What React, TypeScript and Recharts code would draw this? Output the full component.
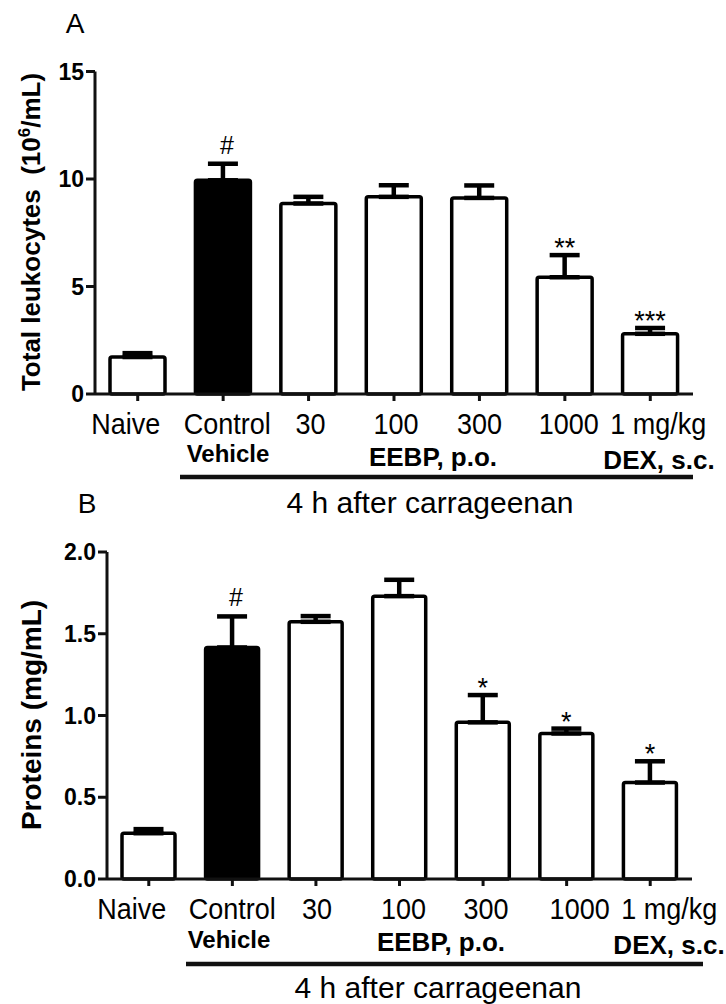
import React from "react";
import { BarChart, Bar, XAxis, YAxis, ErrorBar, Cell } from "recharts";

const FONT = "'Liberation Sans', Arial, sans-serif";

const categories = ["Naive", "Control", "30", "100", "300", "1000", "1 mg/kg"];

// panel A: total leukocytes (10^6/mL)
const leukMean = [1.72, 9.94, 8.86, 9.17, 9.12, 5.43, 2.8];
const leukSem = [0.18, 0.77, 0.31, 0.54, 0.58, 1.03, 0.27];
const leukMarks = ["", "#", "", "", "", "**", "***"];
const leukTicks = [0, 5, 10, 15];

// panel B: proteins (mg/mL)
const protMean = [0.28, 1.416, 1.573, 1.73, 0.958, 0.89, 0.59];
const protSem = [0.025, 0.19, 0.035, 0.1, 0.167, 0.03, 0.13];
const protMarks = ["", "#", "", "", "*", "*", "*"];
const protTicks = [0, 0.5, 1, 1.5, 2];

const groupLabels = ["Vehicle", "EEBP, p.o.", "DEX, s.c."];
const caption = "4 h after carrageenan";

const buildRows = (mean: number[], sem: number[], marks: string[]) =>
  categories.map((c, i) => ({
    cat: c,
    mean: mean[i],
    sem: sem[i],
    err: [0, sem[i]],
    mark: marks[i],
  }));

const leukRows = buildRows(leukMean, leukSem, leukMarks);
const protRows = buildRows(protMean, protSem, protMarks);

// label nudges (layout only)
const A_DX = [-12, 4, 2, 2, 0, 4, 8];
const B_DX = [-17, 0, 1, 4, 3, 13, 19];

function XTick(props: any) {
  const { x, y, payload, dxs } = props;
  const idx = payload.index ?? categories.indexOf(payload.value);
  return (
    <g transform={`translate(${x + dxs[idx]},${y + 33}) scale(1,1.1)`}>
      <text textAnchor="middle" fontSize={27} fontFamily={FONT} fill="#000">
        {payload.value}
      </text>
    </g>
  );
}

function BarShape(props: any) {
  const { x, y, width, height, payload, fill } = props;
  const pxPerUnit = payload.mean ? height / payload.mean : 0;
  const capY = y - payload.sem * pxPerUnit;
  const isHash = payload.mark === "#";
  return (
    <g>
      <rect
        x={x}
        y={y}
        width={width}
        height={height}
        rx={2}
        fill={fill}
        stroke="#000"
        strokeWidth={3.5}
      />
      {payload.mark && (
        <text
          x={x + width / 2 + (isHash ? 4 : 0)}
          y={isHash ? capY - 10 : capY + 2}
          textAnchor="middle"
          fontSize={isHash ? 25 : 27}
          fontFamily={FONT}
          fill="#000"
        >
          {payload.mark}
        </text>
      )}
    </g>
  );
}

type PanelProps = {
  rows: any[];
  ticks: number[];
  top: number;
  yWidth: number;
  right: number;
  marginTop: number;
  dxs: number[];
  barSize: number;
  fmt: (v: number) => string;
};

function Panel({ rows, ticks, top, yWidth, right, marginTop, dxs, barSize, fmt }: PanelProps) {
  const H = 470;
  return (
    <div style={{ position: "absolute", left: 0, top }}>
      <BarChart
        width={726}
        height={H}
        data={rows}
        margin={{ top: marginTop, right, left: 0, bottom: H - 394 - 30 }}
      >
        <XAxis
          dataKey="cat"
          height={30}
          interval={0}
          axisLine={{ stroke: "#111", strokeWidth: 3 }}
          tickLine={{ stroke: "#111", strokeWidth: 3 }}
          tickSize={7}
          tickMargin={0}
          tick={(p: any) => <XTick {...p} dxs={dxs} />}
        />
        <YAxis
          width={yWidth}
          domain={[ticks[0], ticks[ticks.length - 1]]}
          ticks={ticks}
          interval={0}
          tickFormatter={fmt}
          axisLine={{ stroke: "#111", strokeWidth: 3 }}
          tickLine={{ stroke: "#111", strokeWidth: 3 }}
          tickSize={9}
          tickMargin={2}
          tick={{ fontSize: 23, fontWeight: 700, fill: "#000", fontFamily: FONT }}
        />
        <Bar dataKey="mean" barSize={barSize} isAnimationActive={false} shape={<BarShape />}>
          {rows.map((r, i) => (
            <Cell key={r.cat} fill={i === 1 ? "#000" : "#fff"} />
          ))}
          <ErrorBar
            dataKey="err"
            direction="y"
            width={15}
            stroke="#000"
            strokeWidth={4.5}
            isAnimationActive={false}
          />
        </Bar>
      </BarChart>
    </div>
  );
}

function Txt(props: any) {
  const { children, ...rest } = props;
  return (
    <text fontFamily={FONT} fill="#000" textAnchor="middle" {...rest}>
      {children}
    </text>
  );
}

export default function App() {
  return (
    <div style={{ position: "absolute", left: 0, top: 0, width: 726, height: 1004, background: "#fff" }}>
      <Panel
        rows={leukRows}
        ticks={leukTicks}
        top={0}
        yWidth={95}
        right={33}
        marginTop={71.5}
        dxs={A_DX}
        barSize={55}
        fmt={(v) => String(v)}
      />
      <Panel
        rows={protRows}
        ticks={protTicks}
        top={485}
        yWidth={107}
        right={34}
        marginTop={67}
        dxs={B_DX}
        barSize={53}
        fmt={(v) => v.toFixed(1)}
      />
      <svg
        width={726}
        height={1004}
        style={{ position: "absolute", left: 0, top: 0, pointerEvents: "none" }}
      >
        {/* panel A */}
        <Txt x={75} y={33} fontSize={28}>A</Txt>
        <Txt x={0} y={0} fontSize={26} fontWeight={700} transform="translate(40,232) rotate(-90)">
          Total leukocytes{"\u00a0\u00a0"}(10
          <tspan fontSize={17} dy={-10}>6</tspan>
          <tspan dy={10}>/mL)</tspan>
        </Txt>
        <Txt x={228} y={462} fontSize={24} fontWeight={700}>{groupLabels[0]}</Txt>
        <Txt x={433} y={466} fontSize={26} fontWeight={700}>{groupLabels[1]}</Txt>
        <Txt x={659} y={469} fontSize={26} fontWeight={700}>{groupLabels[2]}</Txt>
        <line x1={180} x2={693} y1={477} y2={477} stroke="#111" strokeWidth={4.5} />
        <Txt x={430} y={513} fontSize={30}>{caption}</Txt>

        {/* panel B */}
        <Txt x={87} y={513} fontSize={28}>B</Txt>
        <Txt x={0} y={0} fontSize={28} fontWeight={700} transform="translate(41,715) rotate(-90)">
          Proteins (mg/mL)
        </Txt>
        <Txt x={229} y={948} fontSize={24} fontWeight={700}>{groupLabels[0]}</Txt>
        <Txt x={441} y={951} fontSize={26} fontWeight={700}>{groupLabels[1]}</Txt>
        <Txt x={669} y={954} fontSize={26} fontWeight={700}>{groupLabels[2]}</Txt>
        <line x1={186} x2={703} y1={964} y2={964} stroke="#111" strokeWidth={4.5} />
        <Txt x={438} y={998} fontSize={30}>{caption}</Txt>
      </svg>
    </div>
  );
}
